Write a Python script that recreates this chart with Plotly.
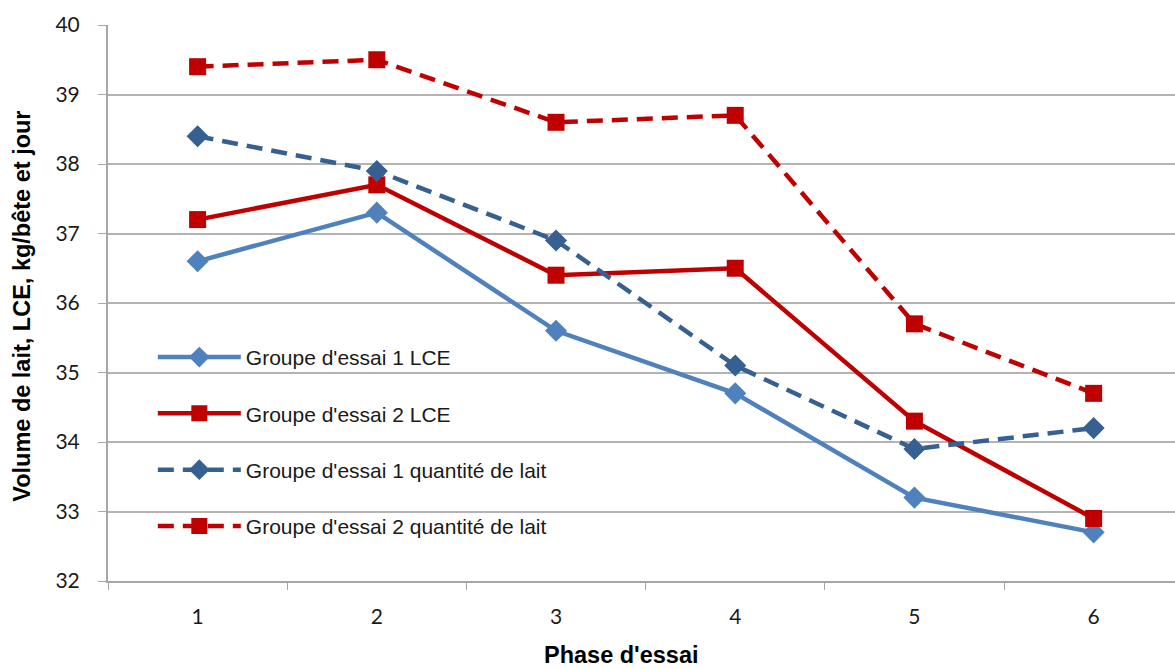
import plotly.graph_objects as go

phases = ["1", "2", "3", "4", "5", "6"]
g1_lce = [36.6, 37.3, 35.6, 34.7, 33.2, 32.7]
g2_lce = [37.2, 37.7, 36.4, 36.5, 34.3, 32.9]
g1_lait = [38.4, 37.9, 36.9, 35.1, 33.9, 34.2]
g2_lait = [39.4, 39.5, 38.6, 38.7, 35.7, 34.7]

names = ["Groupe d'essai 1 LCE", "Groupe d'essai 2 LCE",
         "Groupe d'essai 1 quantité de lait", "Groupe d'essai 2 quantité de lait"]

series = [
    (g1_lce, "#4F81BD", "solid", "diamond", 17),
    (g2_lce, "#C00000", "solid", "square", 17),
    (g1_lait, "#376092", "16px,9px", "diamond", 17),
    (g2_lait, "#C00000", "16px,9px", "square", 17),
]

fig = go.Figure()
for i, (vals, col, dash, sym, ms) in enumerate(series):
    fig.add_trace(go.Scatter(
        x=phases, y=vals, name=names[i], mode="lines+markers",
        line=dict(color=col, width=4.5, dash=dash),
        marker=dict(color=col, symbol=sym, size=ms),
        legendgroup=f"g{i}",
    ))

fig.update_layout(
    width=1175, height=669,
    margin=dict(l=108, r=0, t=25, b=88),
    plot_bgcolor="white", paper_bgcolor="white",
    showlegend=True,
    legend=dict(
        x=0.042, y=0.439, xanchor="left", yanchor="top",
        bgcolor="rgba(0,0,0,0)",
        font=dict(family="Liberation Sans, Arial", size=21, color="#1a1a1a"),
        traceorder="grouped", tracegroupgap=26, itemwidth=83,
    ),
    xaxis=dict(
        type="category", range=[-0.5, 5.454],
        tickson="boundaries", ticks="outside", ticklen=7, tickcolor="#a6a6a6",
        showgrid=False, showline=True, linecolor="#a6a6a6", linewidth=2,
        tickfont=dict(family="Lato, Open Sans", size=21, color="#1a1a1a"),
        ticklabelstandoff=16,
    ),
    yaxis=dict(
        range=[32, 40], dtick=1, ticks="outside", ticklen=8, tickcolor="#a6a6a6",
        showgrid=True, gridcolor="#b3b3b3", gridwidth=2,
        showline=True, linecolor="#a6a6a6", linewidth=2,
        tickfont=dict(family="Lato, Open Sans", size=21, color="#1a1a1a"),
        ticklabelstandoff=14,
    ),
    annotations=[
        dict(text="<b>Volume de lait, LCE, kg/bête et jour</b>", textangle=-90,
             xref="paper", yref="paper", x=-0.0806, y=0.495, xanchor="center", yanchor="middle",
             showarrow=False, font=dict(family="Liberation Sans, Arial", size=23.5, color="black")),
        dict(text="<b>Phase d'essai</b>",
             xref="paper", yref="paper", x=0.481, y=-0.133, xanchor="center", yanchor="middle",
             showarrow=False, font=dict(family="Liberation Sans, Arial", size=23.5, color="black")),
    ],
)

fig.write_html("out.html")
